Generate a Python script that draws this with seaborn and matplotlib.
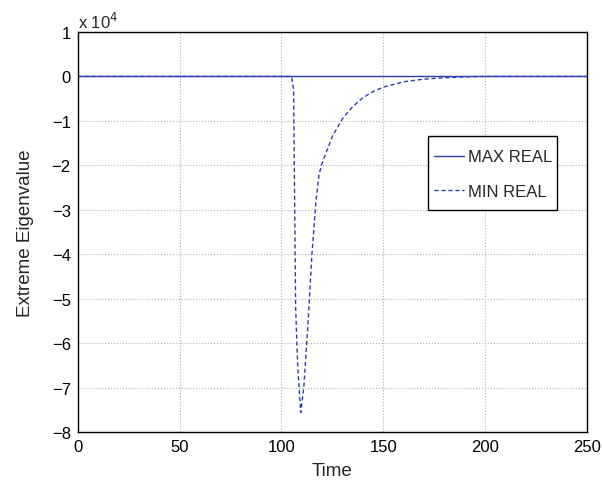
import numpy as np
import pandas as pd
import matplotlib
matplotlib.use('Agg')
import matplotlib.pyplot as plt
from matplotlib.patches import Rectangle
from matplotlib.ticker import FuncFormatter
import seaborn as sns

sns.set_style('white')
plt.rcParams['font.family'] = ['Liberation Sans', 'DejaVu Sans']

time_max = [0, 250]
eig_max = [0, 0]

time_min = [0, 105, 106, 107, 108, 109.5, 111, 113, 115, 117, 118.5, 120, 125,
            130, 135, 140, 145, 150, 160, 170, 180, 190, 200, 250]
eig_min = [0, 0, -3000, -52000, -65000, -75600, -70000, -56000, -40000, -28000,
           -22000, -19500, -13500, -9500, -6800, -4800, -3400, -2400, -1200,
           -600, -300, -100, 0, 0]

df = pd.concat([
    pd.DataFrame({'Time': time_max, 'Eig': eig_max, 'Series': 'MAX REAL'}),
    pd.DataFrame({'Time': time_min, 'Eig': eig_min, 'Series': 'MIN REAL'}),
])

fig = plt.figure(figsize=(6.02, 4.85), dpi=100)
ax = fig.add_axes([0.129, 0.107, 0.846, 0.825])

blue = '#2a3fae'
sns.lineplot(data=df, x='Time', y='Eig', hue='Series', style='Series',
             palette={'MAX REAL': blue, 'MIN REAL': blue},
             dashes={'MAX REAL': '', 'MIN REAL': (3, 2)},
             linewidth=1.0, ax=ax, sort=False, estimator=None)

ax.set_xlim(0, 250)
ax.set_ylim(-80000, 10000)
ax.set_xticks(np.arange(0, 251, 50))
ax.set_yticks(np.arange(-80000, 10001, 10000))
ax.yaxis.set_major_formatter(FuncFormatter(lambda v, p: f'{v / 1e4:g}'.replace('-', '\u2212')))
ax.grid(True, linestyle=':', color='#b0b0b0', linewidth=0.8)
ax.tick_params(labelsize=12, direction='in', length=4, width=0.8, colors='black', pad=5)
for s in ax.spines.values():
    s.set_linewidth(1.0)
    s.set_color('black')
ax.set_xlabel('Time', fontsize=13.5, labelpad=6)
ax.set_ylabel('Extreme Eigenvalue', fontsize=13.5, labelpad=13)
ax.text(0.0, 1.003, 'x 10$^4$', transform=ax.transAxes, fontsize=12, ha='left', va='bottom')

# legend box (MATLAB style: tight horizontal padding)
ax.add_patch(Rectangle((0.688, 0.555), 0.253, 0.185, transform=ax.transAxes,
                       facecolor='white', edgecolor='black', linewidth=1.0, zorder=4))
leg = ax.legend(loc='center left', bbox_to_anchor=(0.684, 0.645), fontsize=12,
                frameon=False, handlelength=1.75, handletextpad=0.25,
                borderpad=0, labelspacing=1.15)
leg.set_zorder(5)

fig.savefig('out.png', dpi=100)
